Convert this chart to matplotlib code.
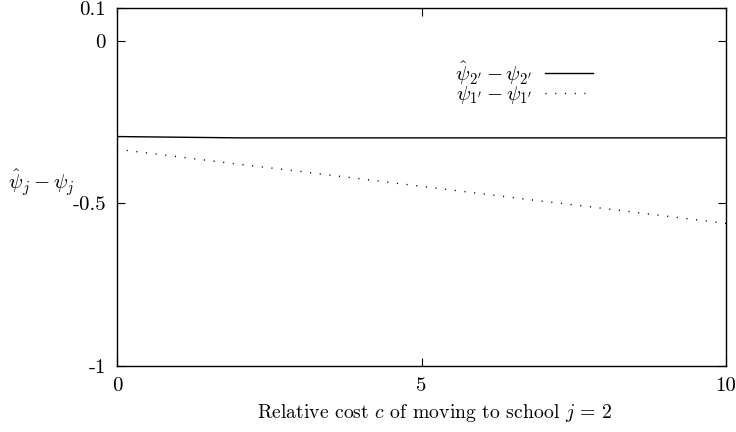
import matplotlib
matplotlib.use("Agg")
import matplotlib.pyplot as plt

plt.rcParams['font.family'] = 'serif'
plt.rcParams['font.serif'] = ['cmr10', 'DejaVu Serif']
plt.rcParams['mathtext.fontset'] = 'cm'
plt.rcParams['axes.unicode_minus'] = False
plt.rcParams['axes.formatter.use_mathtext'] = True

c = [0, 1, 2, 3, 4, 5, 6, 7, 8, 9, 10]
psi2 = [-0.295, -0.297, -0.299, -0.299, -0.299, -0.299, -0.299, -0.299, -0.299, -0.299, -0.299]
psi1 = [-0.334, -0.357, -0.380, -0.402, -0.425, -0.448, -0.471, -0.494, -0.516, -0.539, -0.562]

xticks = [0, 5, 10]
xtick_labels = ['0', '5', '10']
yticks = [-1, -0.5, 0, 0.1]
ytick_labels = ['-1', '-0.5', '0', '0.1']

fig = plt.figure(figsize=(7.36, 4.32), dpi=100)
ax = fig.add_axes([117/736, 1-366/432, (726-117)/736, (366-8)/432])

ax.plot(c, psi2, color='black', lw=1.0, label=r"$\hat{\psi}_{2'} - \psi_{2'}$")
ax.plot(c, psi1, color='black', lw=1.0, linestyle=(0, (0.8, 6.2)),
        label=r"$\psi_{1'} - \psi_{1'}$")

ax.set_xlim(0, 10)
ax.set_ylim(-1, 0.1)
ax.set_xticks(xticks)
ax.set_xticklabels(xtick_labels)
ax.set_yticks(yticks)
ax.set_yticklabels(ytick_labels)
ax.tick_params(direction='in', length=6, width=0.8, top=True, right=True,
               labelsize=15, pad=8)
for s in ax.spines.values():
    s.set_linewidth(1.0)

ax.set_xlabel(r"Relative cost $c$ of moving to school $j$ = 2", fontsize=14.2,
              labelpad=5, x=(435-117)/609)
fig.text(8/736, 1-183/432, r"$\hat{\psi}_j - \psi_j$", fontsize=15, ha='left', va='center')

leg = ax.legend(loc='upper right', bbox_to_anchor=((593-117)/(726-117), 1-(59-8)/(366-8)),
                frameon=False, markerfirst=False, fontsize=15, handlelength=2.3,
                handletextpad=0.6, labelspacing=-0.12, borderaxespad=0, borderpad=0)

fig.savefig('out.png', dpi=100)
